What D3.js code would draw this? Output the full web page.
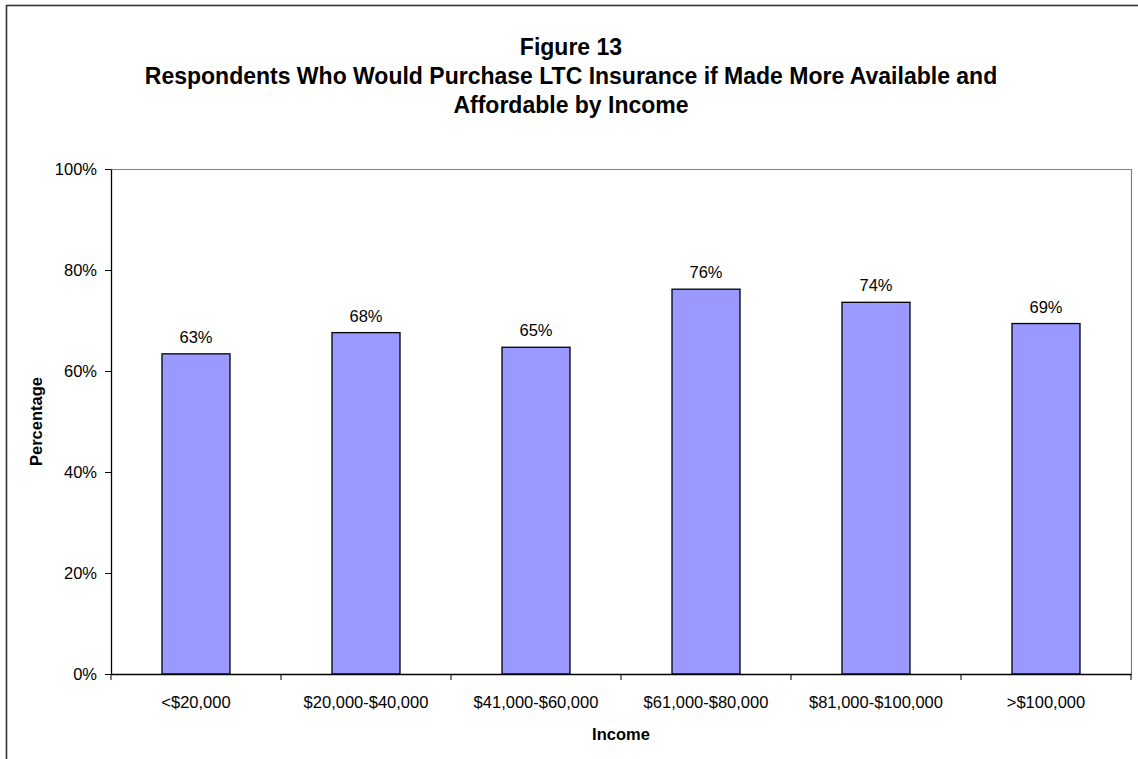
<!DOCTYPE html>
<html>
<head>
<meta charset="utf-8">
<script src="https://cdn.jsdelivr.net/npm/d3@7"></script>
<style>
  html, body { margin: 0; padding: 0; background: #fff; }
  svg { display: block; font-family: "Liberation Sans", Arial, sans-serif; }
</style>
</head>
<body>
<svg id="chart" width="1138" height="759"></svg>
<script>
// Income brackets and the share of respondents who would buy LTC insurance
const categories = ["<$20,000", "$20,000-$40,000", "$41,000-$60,000", "$61,000-$80,000", "$81,000-$100,000", ">$100,000"];
const shares = [0.634, 0.676, 0.647, 0.762, 0.736, 0.694];
const yTicks = [0, 0.2, 0.4, 0.6, 0.8, 1.0];
const titleLines = ["Figure 13", "Respondents Who Would Purchase LTC Insurance if Made More Available and", "Affordable by Income"];

const svg = d3.select("#chart");
const W = 1138, H = 759;
const plot = { left: 111, top: 169, right: 1131, bottom: 674 };
const FS = 16.5;

// outer chart frame (runs past the bottom and right edges)
svg.append("rect")
  .attr("x", 6.5).attr("y", 5.5)
  .attr("width", W + 20).attr("height", H + 20)
  .attr("fill", "#fff").attr("stroke", "#333").attr("stroke-width", 1.6);

// title
svg.append("g").selectAll("text").data(titleLines).join("text")
  .attr("x", 571).attr("y", (d, i) => 55 + i * 29)
  .attr("text-anchor", "middle")
  .attr("font-size", 23).attr("font-weight", "bold").attr("fill", "#000")
  .text(d => d);

const x = d3.scaleBand().domain(categories).range([plot.left, plot.right]).paddingInner(0.6).paddingOuter(0.3);
const y = d3.scaleLinear().domain([0, 1]).range([plot.bottom, plot.top]);

// plot area top/right border
svg.append("path")
  .attr("d", `M${plot.left},${plot.top + 0.5}H${plot.right + 0.5}V${plot.bottom}`)
  .attr("fill", "none").attr("stroke", "#808080").attr("stroke-width", 1.2);

// bars
svg.append("g").selectAll("rect").data(shares).join("rect")
  .attr("x", (d, i) => x(categories[i]))
  .attr("y", d => y(d))
  .attr("width", x.bandwidth())
  .attr("height", d => y(0) - y(d))
  .attr("fill", "#9999FF").attr("stroke", "#000").attr("stroke-width", 1.3);

// value labels
const pct = d3.format(".0%");
svg.append("g").selectAll("text").data(shares).join("text")
  .attr("x", (d, i) => x(categories[i]) + x.bandwidth() / 2)
  .attr("y", d => y(d) - 11)
  .attr("text-anchor", "middle").attr("font-size", FS).attr("fill", "#000")
  .text(d => pct(d));

// y axis
const yAxis = svg.append("g").attr("transform", `translate(${plot.left},0)`)
  .call(d3.axisLeft(y).tickValues(yTicks).tickFormat(pct).tickSize(6).tickSizeOuter(0));
yAxis.select(".domain").attr("stroke", "#000").attr("stroke-width", 1.3);
yAxis.selectAll(".tick line").attr("stroke", "#000");
yAxis.selectAll(".tick text").attr("font-size", FS).attr("fill", "#000")
  .attr("font-family", "Liberation Sans, Arial, sans-serif").attr("x", -14);

// x axis: ticks at the category boundaries
const xAxis = svg.append("g").attr("transform", `translate(0,${plot.bottom})`)
  .call(d3.axisBottom(x).tickSize(0).tickSizeOuter(0).tickPadding(22));
xAxis.select(".domain").attr("stroke", "#000").attr("stroke-width", 1.3);
xAxis.selectAll(".tick text").attr("font-size", FS).attr("fill", "#000")
  .attr("font-family", "Liberation Sans, Arial, sans-serif");
const step = x.step();
const bounds = d3.range(categories.length + 1).map(i => plot.left + i * step);
xAxis.append("g").selectAll("line").data(bounds).join("line")
  .attr("x1", d => d).attr("x2", d => d).attr("y1", 0).attr("y2", 6)
  .attr("stroke", "#000");

// axis titles
svg.append("text").attr("x", (plot.left + plot.right) / 2).attr("y", 740)
  .attr("text-anchor", "middle").attr("font-size", FS).attr("font-weight", "bold")
  .text("Income");
svg.append("text")
  .attr("transform", `translate(42,${(plot.top + plot.bottom) / 2}) rotate(-90)`)
  .attr("text-anchor", "middle").attr("font-size", FS).attr("font-weight", "bold")
  .text("Percentage");
</script>
</body>
</html>
